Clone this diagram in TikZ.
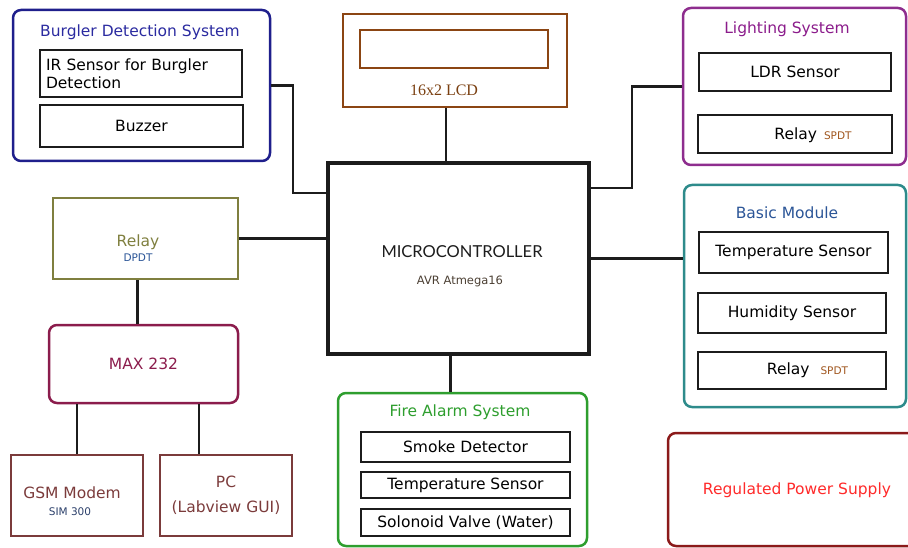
\documentclass[tikz,border=0pt]{standalone}
\usepackage{fontspec}
\setmainfont{DejaVu Sans}
\newfontfamily\lcdfont{Liberation Serif}
\newfontfamily\chipfont{Lato}
\newcommand{\notefont}{\fontsize{10.5pt}{12pt}\selectfont}
\definecolor{partc}{HTML}{1C1C1C}
\definecolor{burgc}{HTML}{1F1F8C}
\definecolor{burgt}{HTML}{2B2BA0}
\definecolor{lcdc}{HTML}{8B4513}
\definecolor{lcdt}{HTML}{7A3F10}
\definecolor{lightc}{HTML}{8E2D8E}
\definecolor{lightt}{HTML}{8B1C8B}
\definecolor{basicc}{HTML}{2E8B8B}
\definecolor{basict}{HTML}{2B5597}
\definecolor{relc}{HTML}{7F7F3F}
\definecolor{maxc}{HTML}{8B1C4C}
\definecolor{gsmc}{HTML}{7B3B3B}
\definecolor{simc}{HTML}{2B3F6A}
\definecolor{firec}{HTML}{2E9E2E}
\definecolor{powc}{HTML}{8B1A1A}
\definecolor{powt}{HTML}{FF2A2A}
\definecolor{spdtc}{HTML}{A0561E}
\definecolor{avrc}{HTML}{4B3F33}
\begin{document}
\begin{tikzpicture}[x=1pt,y=-1pt,
  every node/.style={inner sep=0pt, font=\fontsize{15.5pt}{18pt}\selectfont},
  group/.style={draw, line width=2.5pt, rounded corners=8pt},
  block/.style={draw, line width=2.5pt},
  part/.style={draw=partc, line width=2.4pt},
  link/.style={draw=partc, line width=2.4pt}]
\clip (0,0) rectangle (908,548);
\node[group, draw=burgc, minimum width=257pt, minimum height=151pt] (burg) at (141.5,85.5) {};
\node[text=burgt] (burgtitle) at (140,32) {Burgler Detection System};
\node[part, minimum width=202pt, minimum height=47pt, text width=190pt, align=left] (ir) at (141,73.5) {IR Sensor for Burgler\\Detection};
\node[part, minimum width=203pt, minimum height=42pt] (buzz) at (141.5,126) {Buzzer};
\node[block, draw=lcdc, minimum width=224pt, minimum height=93pt] (lcd) at (455,60.5) {};
\node[block, draw=lcdc, minimum width=188pt, minimum height=38pt] (screen) at (454,49) {};
\node[text=lcdt, font=\lcdfont\fontsize{16pt}{18pt}\selectfont] (lcdlabel) at (444,90) {16x2 LCD};
\node[draw=partc, line width=4pt, minimum width=261pt, minimum height=191pt] (micro) at (458.5,258.5) {};
\node[text=partc, font=\chipfont\fontsize{16.5pt}{18pt}\selectfont] (chip) at (462,252) {MICROCONTROLLER};
\node[text=avrc, font=\fontsize{11.5pt}{13pt}\selectfont] (avr) at (460,281) {AVR Atmega16};
\node[group, draw=lightc, minimum width=223pt, minimum height=157pt] (light) at (794.5,86.5) {};
\node[text=lightt] (lighttitle) at (787,29) {Lighting System};
\node[part, minimum width=192pt, minimum height=38pt] (ldr) at (795,72) {LDR Sensor};
\node[part, minimum width=194pt, minimum height=38pt] (lrelay) at (795,134) {};
\node (lrelaytxt) at (813,135) {Relay\hspace{7pt}{\notefont\color{spdtc}SPDT}};
\node[group, draw=basicc, minimum width=222pt, minimum height=222pt] (basic) at (795,296) {};
\node[text=basict] (basictitle) at (787,213) {Basic Module};
\node[part, minimum width=189pt, minimum height=41pt] (btemp) at (793.5,252.5) {Temperature Sensor};
\node[part, minimum width=188pt, minimum height=40pt] (humid) at (792,313) {Humidity Sensor};
\node[part, minimum width=188pt, minimum height=37pt] (brelay) at (792,370.5) {};
\node (brelaytxt) at (807.5,370) {Relay\hspace{11pt}{\notefont\color{spdtc}SPDT}};
\node[block, draw=relc, minimum width=185pt, minimum height=81pt] (relay) at (145.5,238.5) {};
\node[text=relc] (relaytxt) at (138,242) {Relay};
\node[text=basict, font=\notefont] (dpdt) at (138,258) {DPDT};
\node[group, draw=maxc, text=maxc, minimum width=189pt, minimum height=78pt] (max) at (143.5,364) {MAX 232};
\node[block, draw=gsmc, minimum width=132pt, minimum height=81pt] (gsm) at (77,495.5) {};
\node[text=gsmc] (gsmtxt) at (72,493) {GSM Modem};
\node[text=simc, font=\notefont] (sim) at (70,512) {SIM 300};
\node[block, draw=gsmc, text=gsmc, align=center, minimum width=132pt, minimum height=81pt] (pc) at (226,495.5) {PC\\[7pt](Labview GUI)};
\node[group, draw=firec, minimum width=249pt, minimum height=153pt] (fire) at (462.5,469.5) {};
\node[text=firec] (firetitle) at (460,412) {Fire Alarm System};
\node[part, minimum width=209pt, minimum height=30pt] (smoke) at (465.5,447) {Smoke Detector};
\node[part, minimum width=209pt, minimum height=26pt] (ftemp) at (465.5,485) {Temperature Sensor};
\node[part, minimum width=209pt, minimum height=27pt] (valve) at (465.5,522.5) {Solonoid Valve (Water)};
\node[group, draw=powc, minimum width=262pt, minimum height=113pt] (power) at (799,489.5) {};
\node[text=powt] (powtxt) at (797,490) {Regulated Power Supply};
\coordinate (bj) at (293,193);
\coordinate (lj) at (632,188);
\draw[link] (burg.east) -| (bj) -- (bj -| micro.west);
\draw[link] ([xshift=-9pt]lcd.south) -- ([xshift=-9pt]lcd.south |- micro.north);
\draw[link] (lj -| micro.east) -- (lj) |- (light.west);
\draw[link] (micro.east) -- (micro.east -| basic.west);
\draw[link] (relay.east) -- (relay.east -| micro.west);
\draw[link] ([xshift=-8pt]relay.south) -- ([xshift=-8pt]relay.south |- max.north);
\draw[link] (gsm.north) -- (gsm.north |- max.south);
\draw[link] ([xshift=-27pt]pc.north) -- ([xshift=-27pt]pc.north |- max.south);
\draw[link] ([xshift=-8pt]micro.south) -- ([xshift=-8pt]micro.south |- fire.north);
\end{tikzpicture}
\end{document}
